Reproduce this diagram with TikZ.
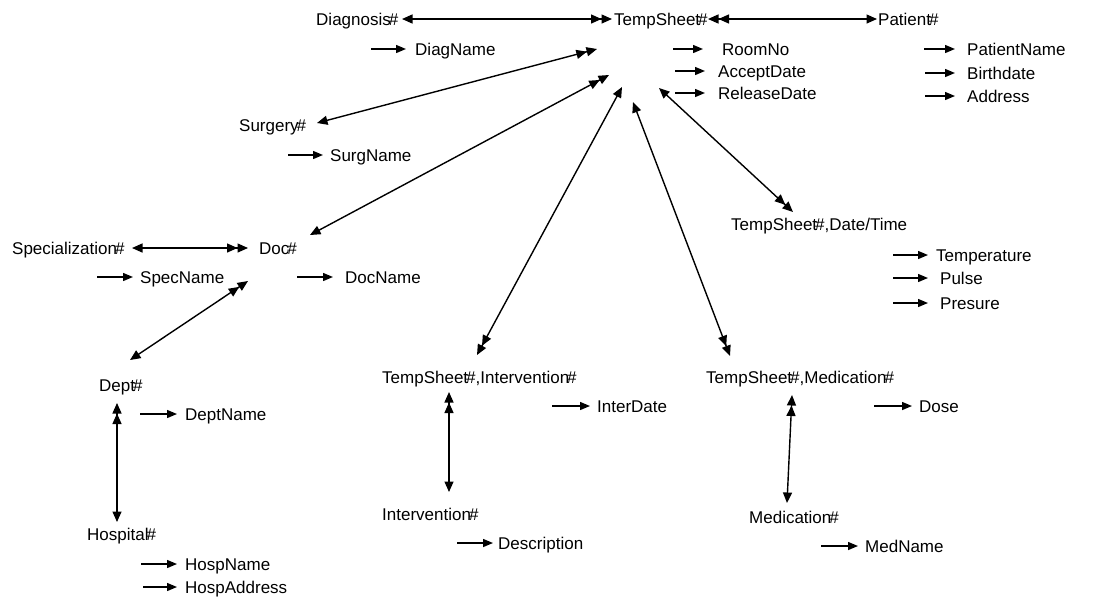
\documentclass[tikz,border=0pt]{standalone}
\usepackage{fontspec}
\setmainfont{Liberation Sans}
\usetikzlibrary{arrows.meta}
% key marker: the hash sits tight against the preceding letter
\newcommand\hsh{\kern-2pt\#}
\tikzset{
  lbl/.style={anchor=base west, inner sep=0pt, font=\fontsize{17}{20}\selectfont},
  tip/.tip={Triangle[length=10.5pt,width=9pt]},
  dtip/.tip={Triangle[length=10.5pt,width=9pt]Triangle[length=10.5pt,width=9pt]},
  rel/.style={line width=1.4pt},
  attrarrow/.style={line width=1.4pt, -{Triangle[length=10pt,width=8pt]}},
}
% attribute arrow pointing at a label: #1 label node, #2/#3 start/end offsets to its left
\newcommand\attr[3]{\draw[attrarrow] ([xshift=-#2pt,yshift=6pt]#1.base west) -- ([xshift=-#3pt,yshift=6pt]#1.base west);}
\begin{document}
\begin{tikzpicture}[x=1pt,y=-1pt]
\useasboundingbox (0,0) rectangle (1109,598);

% ---- entity and attribute labels ----
\node[lbl] (diag)        at (316,25)  {Diagnosis\hsh};
\node[lbl] (temp)        at (614,25)  {TempSheet\hsh};
\node[lbl] (patient)     at (878,25)  {Patient\hsh};
\node[lbl] (diagname)    at (415,55)  {DiagName};
\node[lbl] (roomno)      at (722,55)  {RoomNo};
\node[lbl] (acceptdate)  at (718,77)  {AcceptDate};
\node[lbl] (releasedate) at (718,99)  {ReleaseDate};
\node[lbl] (patname)     at (967,55)  {PatientName};
\node[lbl] (birth)       at (967,79)  {Birthdate};
\node[lbl] (address)     at (967,102) {Address};
\node[lbl] (surgery)     at (239,131) {Surgery\hsh};
\node[lbl] (surgname)    at (330,161) {SurgName};
\node[lbl] (spec)        at (12,254)  {Specialization\hsh};
\node[lbl] (doc)         at (259,254) {Doc\hsh};
\node[lbl] (specname)    at (140,283) {SpecName};
\node[lbl] (docname)     at (345,283) {DocName};
\node[lbl] (dept)        at (99,391)  {Dept\hsh};
\node[lbl] (deptname)    at (185,420) {DeptName};
\node[lbl] (hosp)        at (87,540)  {Hospital\hsh};
\node[lbl] (hospname)    at (185,570) {HospName};
\node[lbl] (hospaddr)    at (185,593) {HospAddress};
\node[lbl] (tsint)       at (382,383) {TempSheet\hsh,Intervention\hsh};
\node[lbl] (interdate)   at (597,412) {InterDate};
\node[lbl] (interv)      at (382,520) {Intervention\hsh};
\node[lbl] (desc)        at (498,549) {Description};
\node[lbl] (tsdt)        at (731,230) {TempSheet\hsh,Date/Time};
\node[lbl] (temperature) at (936,261) {Temperature};
\node[lbl] (pulse)       at (940,284) {Pulse};
\node[lbl] (presure)     at (940,309) {Presure};
\node[lbl] (tsmed)       at (706,383) {TempSheet\hsh,Medication\hsh};
\node[lbl] (dose)        at (919,412) {Dose};
\node[lbl] (med)         at (749,523) {Medication\hsh};
\node[lbl] (medname)     at (865,552) {MedName};

% ---- attribute arrows ----
\attr{diagname}{44}{9}
\attr{roomno}{49}{19}
\attr{acceptdate}{43}{13}
\attr{releasedate}{43}{13}
\attr{patname}{43}{12}
\attr{birth}{42}{12}
\attr{address}{42}{12}
\attr{surgname}{42}{7}
\attr{specname}{43}{7}
\attr{docname}{48}{12}
\attr{deptname}{45}{8}
\attr{hospname}{44}{8}
\attr{hospaddr}{42}{8}
\attr{interdate}{45}{7}
\attr{desc}{41}{5}
\attr{temperature}{43}{8}
\attr{pulse}{47}{12}
\attr{presure}{47}{12}
\attr{dose}{45}{7}
\attr{medname}{44}{7}

% ---- relationship end points ----
\coordinate (diag-r)   at (402,19);
\coordinate (temp-l)   at (612,19);
\coordinate (temp-r)   at (708,19);
\coordinate (pat-l)    at (877,19);
\coordinate (surg-e)   at (317,123);
\coordinate (temp-s)   at (597,49);
\coordinate (doc-ne)   at (310,235);
\coordinate (temp-d)   at (609,75);
\coordinate (spec-r)   at (132,248);
\coordinate (doc-l)    at (248,248);
\coordinate (dept-ne)  at (130,360);
\coordinate (doc-sw)   at (248,281);
\coordinate (dept-s)   at (117,403);
\coordinate (hosp-n)   at (117,522);
\coordinate (temp-i)   at (622,87);
\coordinate (tsint-n)  at (477,355);
\coordinate (temp-m)   at (633,102);
\coordinate (tsmed-n)  at (730,356);
\coordinate (temp-t)   at (659,88);
\coordinate (tsdt-n)   at (793,212);
\coordinate (tsint-s)  at (449,392);
\coordinate (interv-n) at (449,492);
\coordinate (tsmed-s)  at (792,395);
\coordinate (med-n)    at (787,503);

% ---- relationships: double head marks the many side ----
\draw[rel, tip-dtip] (diag-r) -- (temp-l);
\draw[rel, dtip-tip] (temp-r) -- (pat-l);
\draw[rel, tip-dtip] (surg-e) -- (temp-s);
\draw[rel, tip-dtip] (doc-ne) -- (temp-d);
\draw[rel, tip-dtip] (spec-r) -- (doc-l);
\draw[rel, tip-dtip] (dept-ne) -- (doc-sw);
\draw[rel, dtip-tip] (dept-s) -- (hosp-n);
\draw[rel, tip-dtip] (temp-i) -- (tsint-n);
\draw[rel, tip-dtip] (temp-m) -- (tsmed-n);
\draw[rel, tip-dtip] (temp-t) -- (tsdt-n);
\draw[rel, dtip-tip] (tsint-s) -- (interv-n);
\draw[rel, dtip-tip] (tsmed-s) -- (med-n);
\end{tikzpicture}
\end{document}
